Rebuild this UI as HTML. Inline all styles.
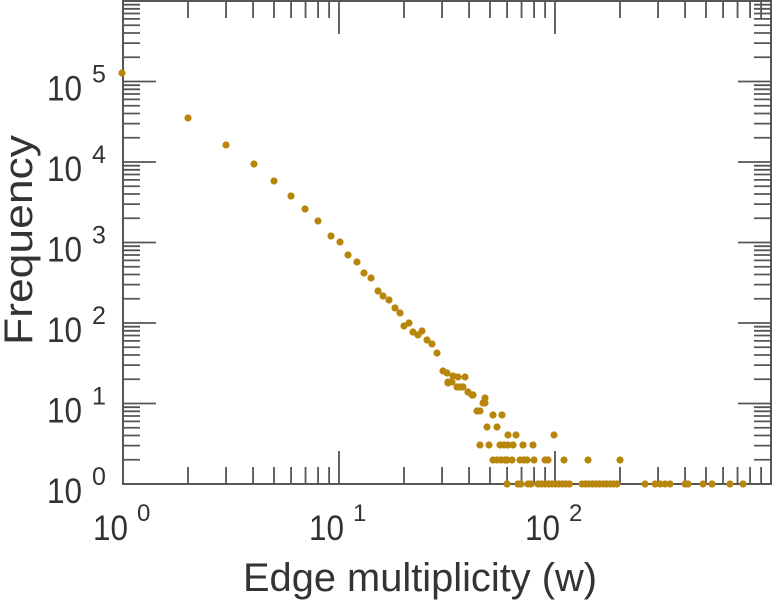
<!DOCTYPE html>
<html><head><style>body{margin:0;background:#fff}svg{display:block}text{font-family:"Liberation Sans",sans-serif;fill:#333}</style></head>
<body>
<svg id="s" width="774" height="600" xmlns="http://www.w3.org/2000/svg"></svg>
<script>
const s=document.getElementById('s');
const L=123,R=771,T=1,B=484;
const xp=v=>L+(R-L)*Math.log10(v)/3;
const yp=v=>B-(B-T)*Math.log10(v)/6;
let h='';
const ln=(a,b,c,d)=>{h+=`<line x1="${a}" y1="${b}" x2="${c}" y2="${d}" stroke="#555" stroke-width="1.8"/>`;};
for(let e=0;e<3;e++)for(let m=1;m<10;m++){const x=xp(m*Math.pow(10,e));const l=m==1?33:17;
 if(x>L+1){ln(x,B,x,B-l);ln(x,T,x,T+l);}}
for(let e=0;e<6;e++)for(let m=1;m<10;m++){const y=yp(m*Math.pow(10,e));const l=m==1?33:17;
 if(y<B-1){ln(L,y,L+l,y);ln(R,y,R-l,y);}}
h+=`<rect x="${L}" y="${T}" width="${R-L}" height="${B-T}" fill="none" stroke="#555" stroke-width="2"/>`;
for(let e=0;e<3;e++){const x=xp(Math.pow(10,e));
 h+=`<text x="${x-30}" y="540" font-size="35" textLength="35" lengthAdjust="spacingAndGlyphs">10</text><text x="${x+14}" y="521" font-size="24">${e}</text>`;}
for(let e=0;e<6;e++){const y=yp(Math.pow(10,e));
 h+=`<text x="47" y="${y+19}" font-size="35" textLength="35" lengthAdjust="spacingAndGlyphs">10</text><text x="92" y="${y+1}" font-size="25">${e}</text>`;}
h+=`<text x="243" y="591" font-size="40" textLength="354" lengthAdjust="spacingAndGlyphs">Edge multiplicity (w)</text>`;
h+=`<text transform="translate(32,345) rotate(-90)" font-size="40" textLength="210" lengthAdjust="spacingAndGlyphs">Frequency</text>`;
const P=[[122,73],[188,118],[226,145],[254,164],[274,181],[291,196],[305,209],[318,221],[331,236],[340,242],[348,255],[357,262],[364,273],[371,278],[378,291],[383,296],[389,300],[395,308],[400,313],[404,326],[409,323],[413,332],[418,335],[422,331],[427,340],[432,344],[437,353],[443,371],[447,373],[453,376],[458,377],[465,377],[448,383],[457,387],[462,387],[468,392],[473,395],[485,398],
[448,382],[452,382],[460,387],[463,387],[472,395],[473,395],[483,403],[485,403],[477,411],[480,411],[493,415],[502,415],[487,427],[497,427],[508,435],[516,435],[554,435],
[480,445],[489,445],[500,445],[504,445],[508,445],[513,445],[523,445],[533,445],
[493,460],[497,460],[501,460],[505,460],[507,460],[512,460],[520,460],[524,460],[527,460],[534,460],[545,460],[548,460],[564,460],[588,460],[620,460]];
for(let x=538;x<=572;x+=3.5)P.push([x,484]);
for(let x=582;x<=617;x+=3.5)P.push([x,484]);
[507,518,521,528,531,645,655,660,665,670,685,688,703,712,730,743].forEach(x=>P.push([x,484]));
P.forEach(p=>{h+=`<circle cx="${p[0]}" cy="${p[1]}" r="3.6" fill="#b8860b"/>`;});
s.innerHTML=h;
</script>
</body></html>
